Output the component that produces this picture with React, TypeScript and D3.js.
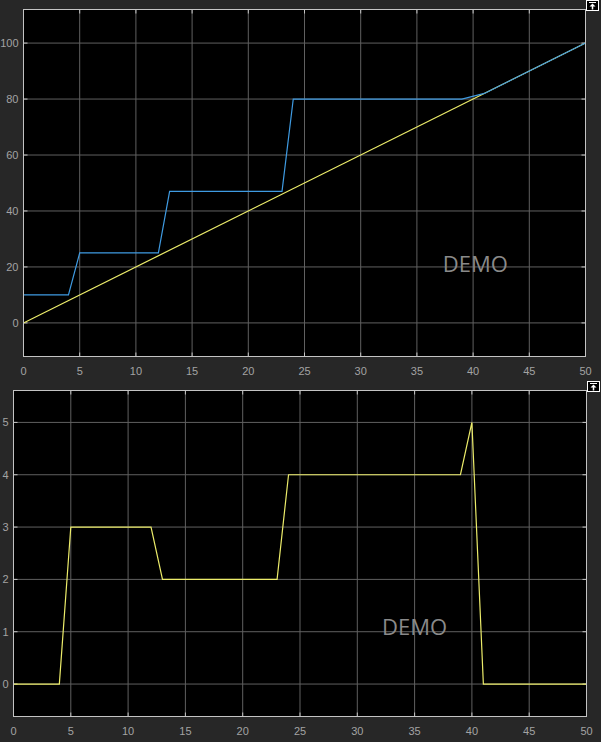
import * as d3 from "d3"

// top scope: stepped signal vs. ramp
const topBlueX = [0, 4, 5, 12, 13, 23, 24, 39, 41, 50]
const topBlueY = [10, 10, 25, 25, 47, 47, 80, 80, 82, 100]
const topRampX = [0, 50]
const topRampY = [0, 100]
const topYTicks = [0, 20, 40, 60, 80, 100]

// bottom scope
const botX = [0, 4, 5, 12, 13, 23, 24, 39, 40, 41, 50]
const botY = [0, 0, 3, 3, 2, 2, 4, 4, 5, 0, 0]
const botYTicks = [0, 1, 2, 3, 4, 5]

const xTicks = [0, 5, 10, 15, 20, 25, 30, 35, 40, 45, 50]

const W = 601
const H = 742
const BG = "#272727"
const GRID = "#606060"
const BORDER = "#c4c4c4"
const LABEL = "#a3a3a3"
const BLUE = "#3f9be2"
const YELLOW = "#ecec6a"

type Series = { xs: number[]; ys: number[]; color: string }

function Scope(props: {
  left: number
  top: number
  right: number
  bottom: number
  yDomain: [number, number]
  yTicks: number[]
  series: Series[]
  demo: [number, number]
}) {
  const { left, top, right, bottom, yDomain, yTicks, series, demo } = props
  const x = d3.scaleLinear().domain([0, 50]).range([left, right])
  const y = d3.scaleLinear().domain(yDomain).range([bottom, top])
  const line = d3
    .line<[number, number]>()
    .x((d) => x(d[0]))
    .y((d) => y(d[1]))
  const tk = 4

  return (
    <g>
      <rect x={left} y={top} width={right - left} height={bottom - top} fill="#000" />
      {xTicks.map((t) => (
        <line key={"gx" + t} x1={x(t)} x2={x(t)} y1={top} y2={bottom} stroke={GRID} strokeWidth={1} />
      ))}
      {yTicks.map((t) => (
        <line key={"gy" + t} x1={left} x2={right} y1={y(t)} y2={y(t)} stroke={GRID} strokeWidth={1} />
      ))}
      {/* inward tick marks on all four sides */}
      {xTicks.map((t) => (
        <g key={"tx" + t} stroke={BORDER} strokeWidth={1}>
          <line x1={x(t)} x2={x(t)} y1={bottom} y2={bottom - tk} />
          <line x1={x(t)} x2={x(t)} y1={top} y2={top + tk} />
        </g>
      ))}
      {yTicks.map((t) => (
        <g key={"ty" + t} stroke={BORDER} strokeWidth={1}>
          <line x1={left} x2={left + tk} y1={y(t)} y2={y(t)} />
          <line x1={right} x2={right - tk} y1={y(t)} y2={y(t)} />
        </g>
      ))}
      {series.map((s, i) => (
        <path
          key={i}
          d={line(s.xs.map((v, j) => [v, s.ys[j]] as [number, number])) || ""}
          fill="none"
          stroke={s.color}
          strokeWidth={1.2}
        />
      ))}
      <rect x={left} y={top} width={right - left} height={bottom - top} fill="none" stroke={BORDER} strokeWidth={1} />
      {xTicks.map((t) => (
        <text
          key={"lx" + t}
          x={x(t)}
          y={bottom + 18}
          textAnchor="middle"
          fill={LABEL}
          fontSize={11}
          fontFamily="Liberation Sans, Arial, sans-serif"
        >
          {t}
        </text>
      ))}
      {yTicks.map((t) => (
        <text
          key={"ly" + t}
          x={left - 5}
          y={y(t)}
          dy="0.35em"
          textAnchor="end"
          fill={LABEL}
          fontSize={11}
          fontFamily="Liberation Sans, Arial, sans-serif"
        >
          {t}
        </text>
      ))}
      <text
        x={x(demo[0])}
        y={y(demo[1])}
        textAnchor="middle"
        fill="#8a8a8a"
        fontSize={22}
        fontFamily="Open Sans, Noto Sans, sans-serif"
      >
        DEMO
      </text>
    </g>
  )
}

function PanelIcon({ x, y }: { x: number; y: number }) {
  return (
    <g>
      <rect x={x + 0.5} y={y + 0.5} width={12} height={10} fill="#000" stroke="#fff" strokeWidth={1} />
      <line x1={x + 3} x2={x + 10} y1={y + 2.5} y2={y + 2.5} stroke="#fff" strokeWidth={1} />
      <path d={`M${x + 6.5},${y + 3.5} L${x + 3.5},${y + 6.5} L${x + 9.5},${y + 6.5} Z`} fill="#fff" />
      <line x1={x + 6.5} x2={x + 6.5} y1={y + 6} y2={y + 9.5} stroke="#fff" strokeWidth={1.5} />
    </g>
  )
}

export default function App() {
  return (
    <svg width={W} height={H} style={{ position: "absolute", left: 0, top: 0, display: "block" }}>
      <rect width={W} height={H} fill={BG} />
      <Scope
        left={23.5}
        top={9.5}
        right={585.5}
        bottom={356.5}
        yDomain={[-12, 112]}
        yTicks={topYTicks}
        series={[
          { xs: topRampX, ys: topRampY, color: YELLOW },
          { xs: topBlueX, ys: topBlueY, color: BLUE },
        ]}
        demo={[40.2, 18.2]}
      />
      <Scope
        left={13.5}
        top={390.5}
        right={586.5}
        bottom={716.5}
        yDomain={[-0.62, 5.61]}
        yTicks={botYTicks}
        series={[{ xs: botX, ys: botY, color: YELLOW }]}
        demo={[35.0, 0.93]}
      />
      <PanelIcon x={586} y={0} />
      <PanelIcon x={587} y={381} />
    </svg>
  )
}
